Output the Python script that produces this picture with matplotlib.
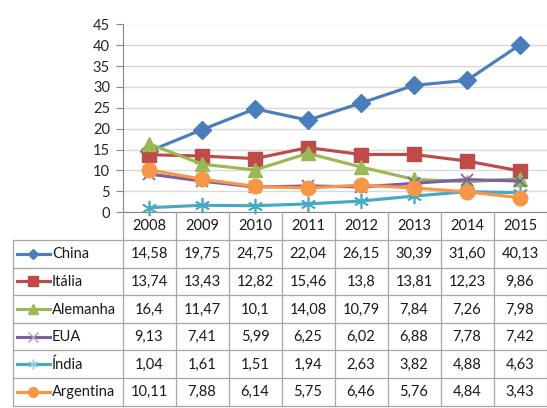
import matplotlib
matplotlib.use("Agg")
import matplotlib.pyplot as plt
from matplotlib.transforms import blended_transform_factory

plt.rcParams['font.family'] = ['Lato', 'DejaVu Sans']

years = ["2008", "2009", "2010", "2011", "2012", "2013", "2014", "2015"]
countries = ["China", "Itália", "Alemanha", "EUA", "Índia", "Argentina"]
china = ["14,58", "19,75", "24,75", "22,04", "26,15", "30,39", "31,60", "40,13"]
italia = ["13,74", "13,43", "12,82", "15,46", "13,8", "13,81", "12,23", "9,86"]
alemanha = ["16,4", "11,47", "10,1", "14,08", "10,79", "7,84", "7,26", "7,98"]
eua = ["9,13", "7,41", "5,99", "6,25", "6,02", "6,88", "7,78", "7,42"]
india = ["1,04", "1,61", "1,51", "1,94", "2,63", "3,82", "4,88", "4,63"]
argentina = ["10,11", "7,88", "6,14", "5,75", "6,46", "5,76", "4,84", "3,43"]
yticks = [0, 5, 10, 15, 20, 25, 30, 35, 40, 45]

series = [china, italia, alemanha, eua, india, argentina]
colors = ["#4A7EBB", "#BE4B48", "#98B954", "#7D60A0", "#46AAC5", "#F79646"]
markers = ["D", "s", "^", "x", (6, 2, 0), "o"]
msizes = [9, 9.5, 10.5, 9, 11, 10.5]
mews = [1, 1, 1, 1.2, 1.2, 1]
kms = [5, 6.5, 7, 7, 7, 7]
kcols = ["#4A7EBB", "#BE4B48", "#98B954", "#A99BC4", "#8FCFE0", "#F79646"]

W, H = 547, 408
L, R = 122.5, 546.5
Y0, Y45 = 212.0, 24.5

fig = plt.figure(figsize=(W / 100, H / 100), dpi=100)
ax = fig.add_axes([L / W, 1 - Y0 / H, (R - L) / W, (Y0 - Y45) / H])
ax.set_xlim(-0.5, len(years) - 0.5)
ax.set_ylim(0, 45)
ax.set_yticks(yticks)
ax.set_yticklabels([str(t) for t in yticks], fontsize=10.5, color="#262626")
ax.set_xticks([])
ax.tick_params(axis='y', length=5, width=0.8, color="#868686", pad=4)
for s in ["top", "right"]:
    ax.spines[s].set_visible(False)
ax.spines["left"].set_color("#868686")
ax.spines["bottom"].set_color("#868686")
ax.grid(axis='y', color="#D9D9D9", lw=1)
ax.set_axisbelow(True)
ax.patch.set_alpha(0)

x = list(range(len(years)))
for vals, c, m, ms, mew in zip(series, colors, markers, msizes, mews):
    v = [float(s.replace(",", ".")) for s in vals]
    ax.plot(x, v, color=c, lw=2.25, marker=m, ms=ms, mec=c, mfc=c, mew=mew,
            clip_on=False, zorder=3)

# overlay in pixel coordinates for the data table
ov = fig.add_axes([0, 0, 1, 1])
ov.set_xlim(0, W)
ov.set_ylim(H, 0)
ov.axis("off")
ov.patch.set_alpha(0)
tr = blended_transform_factory(ax.transData, ov.transData)

gcol = "#A6A6A6"
rows = [240.0 + i * 27.6 for i in range(len(countries) + 1)]
TL = 13.3
for yy in rows:
    ov.plot([TL, R], [yy, yy], color=gcol, lw=0.9, clip_on=False)
ov.plot([TL, TL], [rows[0], rows[-1]], color=gcol, lw=0.9, clip_on=False)
for i in range(len(years) + 1):
    ov.plot([i - 0.5, i - 0.5], [Y0, rows[-1]], color=gcol, lw=0.9,
            transform=tr, clip_on=False)

for i, yr in enumerate(years):
    ov.text(i, (Y0 + rows[0]) / 2 + 0.5, yr, transform=tr, ha="center",
            va="center", fontsize=10.5, color="#1a1a1a")

for r, (name, vals, c, m, km, kc) in enumerate(zip(countries, series, colors, markers, kms, kcols)):
    yc = (rows[r] + rows[r + 1]) / 2
    ov.plot([16.5, 50], [yc, yc], color=c, lw=2.25, clip_on=False)
    ov.plot([33], [yc], marker=m, ms=km, color=kc, mec=kc, mew=1, clip_on=False)
    ov.text(52, yc + 0.5, name, ha="left", va="center", fontsize=10.5, color="#1a1a1a")
    for i, s in enumerate(vals):
        ov.text(i, yc + 0.5, s, transform=tr, ha="center", va="center",
                fontsize=10.5, color="#1a1a1a")

fig.savefig("out.png", dpi=100)
